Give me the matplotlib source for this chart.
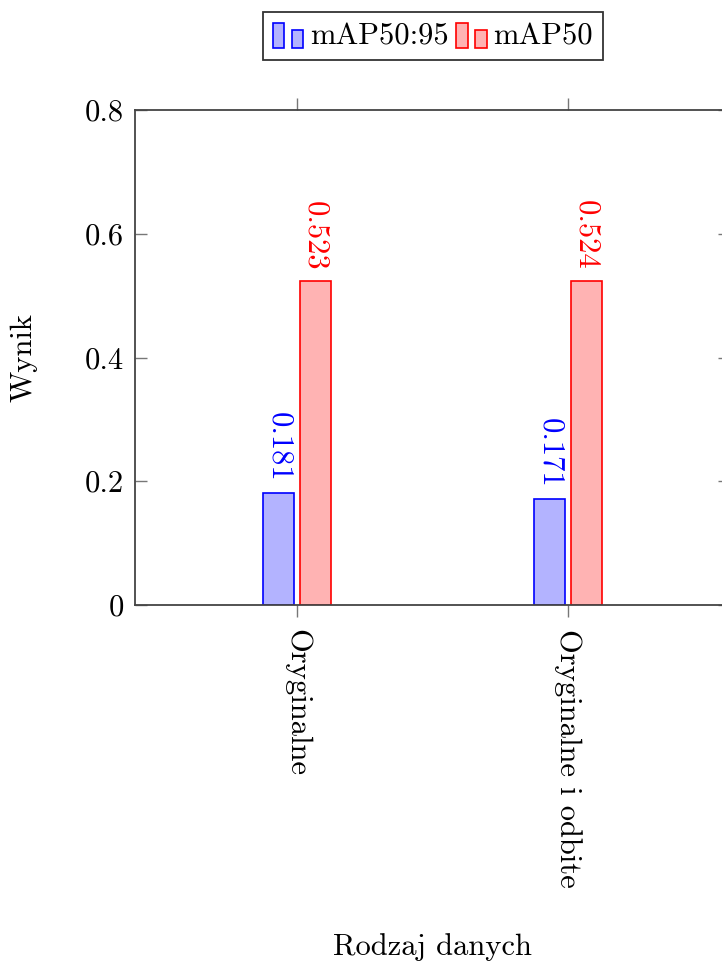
import matplotlib
matplotlib.use("Agg")
import matplotlib.pyplot as plt
from matplotlib.patches import Rectangle
from matplotlib.legend_handler import HandlerBase
import numpy as np

# data
categories = ["Oryginalne", "Oryginalne i odbite"]
map5095 = [0.181, 0.171]
map50 = [0.523, 0.524]
series_names = ["mAP50:95", "mAP50"]
yticks = [0, 0.2, 0.4, 0.6, 0.8]
ytick_labels = ["0", "0.2", "0.4", "0.6", "0.8"]

FS = 22
plt.rcParams["font.family"] = ["cmr10", "DejaVu Serif"]
plt.rcParams["axes.formatter.use_mathtext"] = True
plt.rcParams["font.size"] = FS

blue_fill = (0.70, 0.70, 1.0)
red_fill = (1.0, 0.70, 0.70)
spine_col = "#444444"


class TwoBarHandler(HandlerBase):
    """pgfplots-like ybar legend image: two small bars."""
    def create_artists(self, legend, orig_handle, xdescent, ydescent,
                       width, height, fontsize, trans):
        fc = orig_handle.get_facecolor()
        ec = orig_handle.get_edgecolor()
        w = width * 0.38
        r1 = Rectangle((-xdescent, -ydescent - 2), w, height * 1.1,
                       facecolor=fc, edgecolor=ec, lw=1.2, transform=trans)
        r2 = Rectangle((-xdescent + width * 0.62, -ydescent - 2), w, height * 0.8,
                       facecolor=fc, edgecolor=ec, lw=1.2, transform=trans)
        return [r1, r2]


fig = plt.figure(figsize=(7.22, 9.65), dpi=100)
ax = fig.add_axes([135 / 722, 360 / 965, 595 / 722, 495 / 965])

x = np.arange(len(categories))
bw = 0.114
off = 0.0675
b1 = ax.bar(x - off, map5095, bw, color=blue_fill, edgecolor="blue", lw=1.2,
            label=series_names[0])
b2 = ax.bar(x + off, map50, bw, color=red_fill, edgecolor="red", lw=1.2,
            label=series_names[1])

for xi, v in zip(x, map5095):
    ax.annotate(f"{v:.3f}", (xi - off, v), xytext=(0, 8), textcoords="offset points",
                rotation=-90, ha="center", va="bottom", color="blue", fontsize=FS)
for xi, v in zip(x, map50):
    ax.annotate(f"{v:.3f}", (xi + off, v), xytext=(0, 8), textcoords="offset points",
                rotation=-90, ha="center", va="bottom", color="red", fontsize=FS)

ax.set_xlim(-0.598, 1.598)
ax.set_ylim(0, 0.8)
ax.set_yticks(yticks)
ax.set_yticklabels(ytick_labels)
ax.set_xticks(x)
ax.set_xticklabels(categories, rotation=-90, va="top", ha="center")

ax.tick_params(axis="y", direction="in", length=8.6, width=1.0, color="#777777",
               left=True, right=True, pad=8)
ax.tick_params(axis="x", direction="out", length=8.6, width=1.0, color="#777777",
               top=True, bottom=True, pad=9)
for s in ax.spines.values():
    s.set_color(spine_col)
    s.set_linewidth(1.3)

ax.set_ylabel("Wynik")
ax.set_xlabel("Rodzaj danych")
ax.yaxis.set_label_coords(-98 / 595, 0.5)
ax.xaxis.set_label_coords(0.5, -(933 - 605) / 495)

h1, h2 = b1.patches[0], b2.patches[0]
leg = fig.legend(handles=[h1, h2], labels=series_names, ncol=2,
                 loc="upper center", bbox_to_anchor=(433 / 722, 1 - 12 / 965),
                 handler_map={h1: TwoBarHandler(), h2: TwoBarHandler()},
                 handlelength=1.0, handleheight=0.8, handletextpad=0.22,
                 columnspacing=0.25, borderpad=0.33, borderaxespad=0,
                 fancybox=False, edgecolor="#333333", framealpha=1)
leg.get_frame().set_linewidth(1.3)

fig.savefig("out.png", dpi=100)
